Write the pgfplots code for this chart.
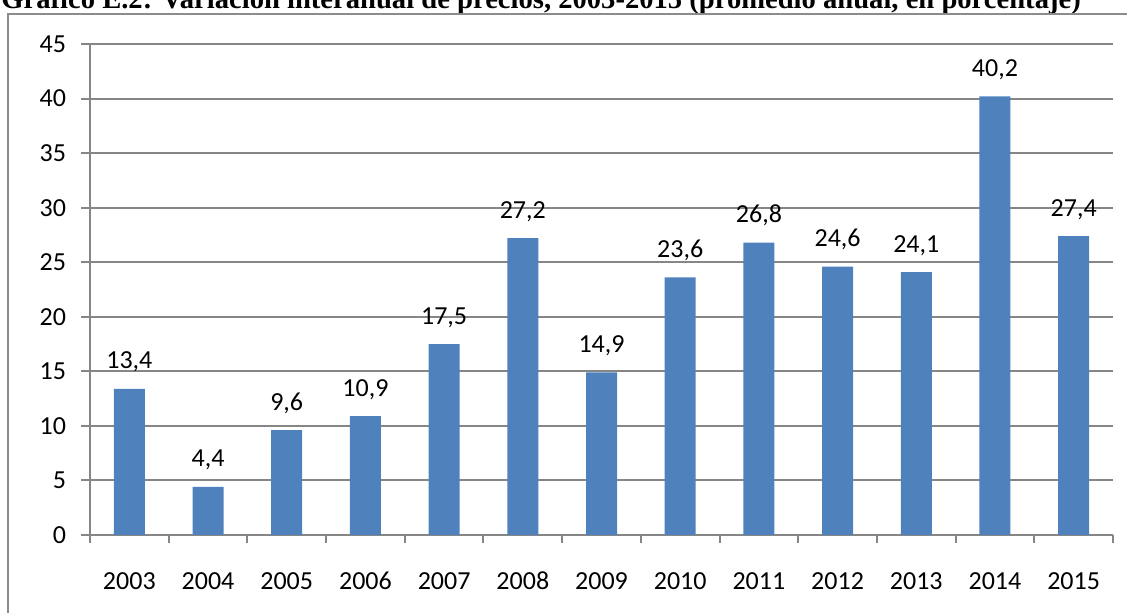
\documentclass[border=0pt]{standalone}
\usepackage{pgfplots}
\pgfplotsset{compat=1.18}
\usepackage{fontspec}
\setmainfont{Carlito}
\newfontfamily\titlefont{Liberation Serif}
\definecolor{barblue}{HTML}{4F81BD}
\definecolor{gridgray}{HTML}{868686}
\definecolor{framegray}{HTML}{8C8C8C}

\begin{document}
\begin{tikzpicture}
\useasboundingbox (0pt,0pt) rectangle (563.5pt,306.5pt);
\clip (0pt,0pt) rectangle (563.5pt,306.5pt);
% title, set above the chart frame
\node[anchor=base west, inner sep=0pt, font=\titlefont\bfseries\fontsize{14.3}{17}\selectfont]
  at (0.5pt,302pt) {Gráfico E.2: Variación interanual de precios, 2003-2015 (promedio anual, en porcentaje)};
% chart frame
\draw[framegray, line width=1pt] (570pt,299.5pt) -- (4pt,299.5pt) -- (4pt,-5pt);
\begin{axis}[
  at={(45pt,39pt)}, anchor=south west,
  scale only axis, width=511.5pt, height=245.5pt,
  xmin=-0.5, xmax=12.5, ymin=0, ymax=45,
  axis lines*=left,
  axis line style={gridgray, line width=1pt},
  ytick={0,5,...,45},
  xtick={0,...,12},
  xticklabels={2003,2004,2005,2006,2007,2008,2009,2010,2011,2012,2013,2014,2015},
  minor xtick={-0.5,0.5,...,12.5},
  tick align=outside,
  major tick length=4.5pt,
  minor tick length=4pt,
  tick style={gridgray, line width=1pt},
  major x tick style={draw=none},
  ymajorgrids,
  major grid style={gridgray, line width=1pt},
  ticklabel style={font=\fontsize{13}{15}\selectfont},
  /pgf/number format/assume math mode=true,
  xticklabel style={text height=9pt, text depth=0pt, yshift=-10pt},
  yticklabel style={xshift=-4pt},
  ybar, bar width=15.5pt,
  nodes near coords={\pgfmathprintnumber[fixed, fixed zerofill, precision=1, use comma, assume math mode=true]{\pgfplotspointmeta}},
  every node near coord/.append style={font=\fontsize{13}{15}\selectfont, anchor=base, yshift=10pt, inner sep=0pt},
]
\addplot[fill=barblue, draw=none] coordinates {
  (0,13.4) (1,4.4) (2,9.6) (3,10.9) (4,17.5) (5,27.2) (6,14.9)
  (7,23.6) (8,26.8) (9,24.6) (10,24.1) (11,40.2) (12,27.4)
};
\end{axis}
\end{tikzpicture}
\end{document}
